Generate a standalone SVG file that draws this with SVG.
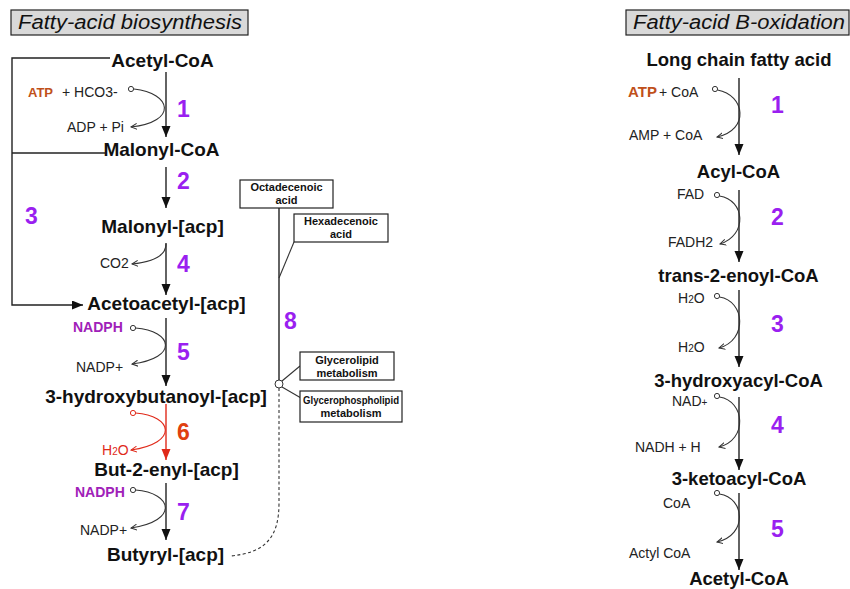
<svg xmlns="http://www.w3.org/2000/svg" width="850" height="589" viewBox="0 0 850 589">
<defs>
<style>
.title{font-family:"Liberation Sans",Arial,sans-serif;font-style:italic;font-size:20px;fill:#111}
.tbox{fill:#d9d9d9;stroke:#222;stroke-width:1.2}
.met{font-family:"Liberation Sans",Arial,sans-serif;font-weight:bold;font-size:19px;fill:#111;text-anchor:middle}
.metr{font-family:"Liberation Sans",Arial,sans-serif;font-weight:bold;font-size:18.5px;fill:#111;text-anchor:middle}
.sm{font-family:"Liberation Sans",Arial,sans-serif;font-size:14px;fill:#222}
.num{font-family:"Liberation Sans",Arial,sans-serif;font-weight:bold;font-size:23px;fill:#9a1ff0}
.atp{font-family:"Liberation Sans",Arial,sans-serif;font-weight:bold;fill:#c0501a}
.nadph{font-family:"Liberation Sans",Arial,sans-serif;font-weight:bold;font-size:14px;fill:#a020b8}
.red{fill:#e02a1a}
.box{fill:#fff;stroke:#222;stroke-width:1.2}
.bt{font-family:"Liberation Sans",Arial,sans-serif;font-weight:bold;font-size:11px;fill:#111;text-anchor:middle}
.main{stroke:#222;stroke-width:1.4;fill:none}
.mainred{stroke:#e02a1a;stroke-width:1.4;fill:none}
.side{stroke:#333;stroke-width:1.1;fill:none}
.sidered{stroke:#e02a1a;stroke-width:1.1;fill:none}
.circ{fill:#fff;stroke:#333;stroke-width:1}
.circred{fill:#fff;stroke:#e02a1a;stroke-width:1}
</style>
<marker id="ah" markerUnits="userSpaceOnUse" markerWidth="12" markerHeight="10" refX="11" refY="4.5" orient="auto"><path d="M0,0 L11,4.5 L0,9 z" fill="#111"/></marker>
<marker id="ahr" markerUnits="userSpaceOnUse" markerWidth="12" markerHeight="10" refX="11" refY="4.5" orient="auto"><path d="M0,0 L11,4.5 L0,9 z" fill="#e02a1a"/></marker>
<marker id="oa" markerUnits="userSpaceOnUse" markerWidth="8" markerHeight="8" refX="6" refY="3.5" orient="auto"><path d="M0,0.5 L6,3.5 L0,6.5" fill="none" stroke="#333" stroke-width="1"/></marker>
<marker id="oar" markerUnits="userSpaceOnUse" markerWidth="8" markerHeight="8" refX="6" refY="3.5" orient="auto"><path d="M0,0.5 L6,3.5 L0,6.5" fill="none" stroke="#e02a1a" stroke-width="1"/></marker>
</defs>
<rect width="850" height="589" fill="#fff"/>

<g id="title-left"><rect class="tbox" x="11" y="10" width="237" height="25"/><text class="title" x="18" y="29" textLength="224" lengthAdjust="spacingAndGlyphs">Fatty-acid biosynthesis</text></g>
<g id="title-right"><rect class="tbox" x="626" y="10" width="223" height="25"/><text class="title" x="633" y="29" textLength="212" lengthAdjust="spacingAndGlyphs">Fatty-acid B-oxidation</text></g>

<g id="connectors">
<path class="main" d="M166,72 V137" marker-end="url(#ah)"/>
<path class="main" d="M166,167 V208" marker-end="url(#ah)"/>
<path class="main" d="M166,243 V295" marker-end="url(#ah)"/>
<path class="main" d="M166,318 V386" marker-end="url(#ah)"/>
<path class="mainred" d="M166,404 V460" marker-end="url(#ahr)"/>
<path class="main" d="M166,483 V540" marker-end="url(#ah)"/>
<path class="main" d="M110,58 H12 V305 H83" marker-end="url(#ah)"/>
<path class="main" d="M12,153 H105"/>
<path class="side" d="M134,89 C172,93 178,122 131,127" marker-end="url(#oa)"/>
<path class="side" d="M166,244 C166,256 152,262 132,264" marker-end="url(#oa)"/>
<path class="side" d="M135.5,328 C173,331 179,358 132,364" marker-end="url(#oa)"/>
<path class="sidered" d="M135.5,413 C173,416 179,443 131,450" marker-end="url(#oar)"/>
<path class="side" d="M135.5,490 C173,493 179,521 131,528" marker-end="url(#oa)"/>
<path class="main" d="M739,78 V155" marker-end="url(#ah)"/>
<path class="main" d="M739,190 V262" marker-end="url(#ah)"/>
<path class="main" d="M739,290 V367" marker-end="url(#ah)"/>
<path class="main" d="M739,397 V470" marker-end="url(#ah)"/>
<path class="main" d="M739,493 V570" marker-end="url(#ah)"/>
<path class="side" d="M717.5,90 C745,95 750,130 717,137" marker-end="url(#oa)"/>
<path class="side" d="M719.5,196 C745,200 748,235 720,244" marker-end="url(#oa)"/>
<path class="side" d="M719.5,297 C745,301 748,340 719,348" marker-end="url(#oa)"/>
<path class="side" d="M719.5,397 C745,401 748,440 719,447" marker-end="url(#oa)"/>
<path class="side" d="M719.5,494 C745,498 748,535 717,542" marker-end="url(#oa)"/>
<path class="main" d="M279,208 V380"/>
<path class="side" d="M294,242 L279,278"/>
<path class="side" d="M282,381 L300,366"/>
<path class="side" d="M282,387 L301,398"/>
<path class="side" d="M279,388 V503 C279,538 265,553 230,556" stroke-dasharray="3,2.5"/>
</g>

<g id="circles">
<circle class="circ" cx="131" cy="89" r="2.6"/>
<circle class="circ" cx="133" cy="328" r="2.6"/>
<circle class="circred" cx="133" cy="413" r="2.6"/>
<circle class="circ" cx="133" cy="490" r="2.6"/>
<circle class="circ" cx="715" cy="89" r="2.6"/>
<circle class="circ" cx="717" cy="195" r="2.6"/>
<circle class="circ" cx="717" cy="296" r="2.6"/>
<circle class="circ" cx="717" cy="396" r="2.6"/>
<circle class="circ" cx="717" cy="493" r="2.6"/>
<circle class="circ" cx="279" cy="384" r="4"/>
</g>

<g id="acetyl-coa-l"><text class="met" x="162.5" y="67">Acetyl-CoA</text></g>
<g id="malonyl-coa"><text class="met" x="161.5" y="156">Malonyl-CoA</text></g>
<g id="malonyl-acp"><text class="met" x="162.5" y="233">Malonyl-[acp]</text></g>
<g id="acetoacetyl-acp"><text class="met" x="166.5" y="310">Acetoacetyl-[acp]</text></g>
<g id="hydroxybutanoyl-acp"><text class="met" x="156" y="403">3-hydroxybutanoyl-[acp]</text></g>
<g id="butenyl-acp"><text class="met" x="166.5" y="476">But-2-enyl-[acp]</text></g>
<g id="butyryl-acp"><text class="met" x="165.5" y="561">Butyryl-[acp]</text></g>

<g id="cof-l1"><text class="atp" x="28" y="97" font-size="13">ATP</text><text class="sm" x="62" y="97">+ HCO3-</text><text class="sm" x="67" y="132">ADP + Pi</text></g>
<g id="cof-l4"><text class="sm" x="100" y="268">CO2</text></g>
<g id="cof-l5"><text class="nadph" x="73" y="332">NADPH</text><text class="sm" x="76" y="372">NADP+</text></g>
<g id="cof-l6"><text class="sm red" x="102" y="455">H<tspan font-size="10">2</tspan>O</text></g>
<g id="cof-l7"><text class="nadph" x="75" y="497">NADPH</text><text class="sm" x="80" y="535">NADP+</text></g>

<g id="nums-l">
<text class="num" x="177" y="117" font-size="26">1</text>
<text class="num" x="177" y="189">2</text>
<text class="num" x="25" y="224">3</text>
<text class="num" x="177" y="272">4</text>
<text class="num" x="177" y="360">5</text>
<text class="num" x="177" y="440" style="fill:#e04010">6</text>
<text class="num" x="177" y="520">7</text>
<text class="num" x="284" y="329">8</text>
</g>

<g id="octadecenoic"><rect class="box" x="240" y="180" width="93" height="28"/><text class="bt" x="286.5" y="191">Octadecenoic</text><text class="bt" x="286.5" y="204">acid</text></g>
<g id="hexadecenoic"><rect class="box" x="294" y="214" width="94" height="28"/><text class="bt" x="341" y="225">Hexadecenoic</text><text class="bt" x="341" y="238">acid</text></g>
<g id="glycerolipid"><rect class="box" x="300" y="352" width="94" height="28"/><text class="bt" x="347" y="364">Glycerolipid</text><text class="bt" x="347" y="377">metabolism</text></g>
<g id="glycerophospholipid"><rect class="box" x="300" y="391" width="102" height="31"/><text class="bt" x="351" y="404" textLength="96" lengthAdjust="spacingAndGlyphs">Glycerophospholipid</text><text class="bt" x="351" y="417">metabolism</text></g>

<g id="long-chain"><text class="metr" x="739" y="66">Long chain fatty acid</text></g>
<g id="acyl-coa"><text class="metr" x="738.5" y="178">Acyl-CoA</text></g>
<g id="trans-enoyl"><text class="metr" x="738.5" y="282">trans-2-enoyl-CoA</text></g>
<g id="hydroxyacyl"><text class="metr" x="738.5" y="387">3-hydroxyacyl-CoA</text></g>
<g id="ketoacyl"><text class="metr" x="739" y="485">3-ketoacyl-CoA</text></g>
<g id="acetyl-coa-r"><text class="metr" x="739" y="585">Acetyl-CoA</text></g>

<g id="cof-r1"><text class="atp" x="628" y="97" font-size="15">ATP</text><text class="sm" x="659" y="97">+ CoA</text><text class="sm" x="629" y="140">AMP + CoA</text></g>
<g id="cof-r2"><text class="sm" x="677" y="199">FAD</text><text class="sm" x="668" y="247">FADH2</text></g>
<g id="cof-r3"><text class="sm" x="678" y="303">H<tspan font-size="10">2</tspan>O</text><text class="sm" x="678" y="352">H<tspan font-size="10">2</tspan>O</text></g>
<g id="cof-r4"><text class="sm" x="672" y="406">NAD<tspan font-size="10">+</tspan></text><text class="sm" x="635" y="452">NADH + H</text></g>
<g id="cof-r5"><text class="sm" x="663" y="508">CoA</text><text class="sm" x="629" y="558">Actyl CoA</text></g>

<g id="nums-r">
<text class="num" x="771" y="113">1</text>
<text class="num" x="771" y="225">2</text>
<text class="num" x="771" y="332">3</text>
<text class="num" x="771" y="433">4</text>
<text class="num" x="771" y="537">5</text>
</g>
</svg>
